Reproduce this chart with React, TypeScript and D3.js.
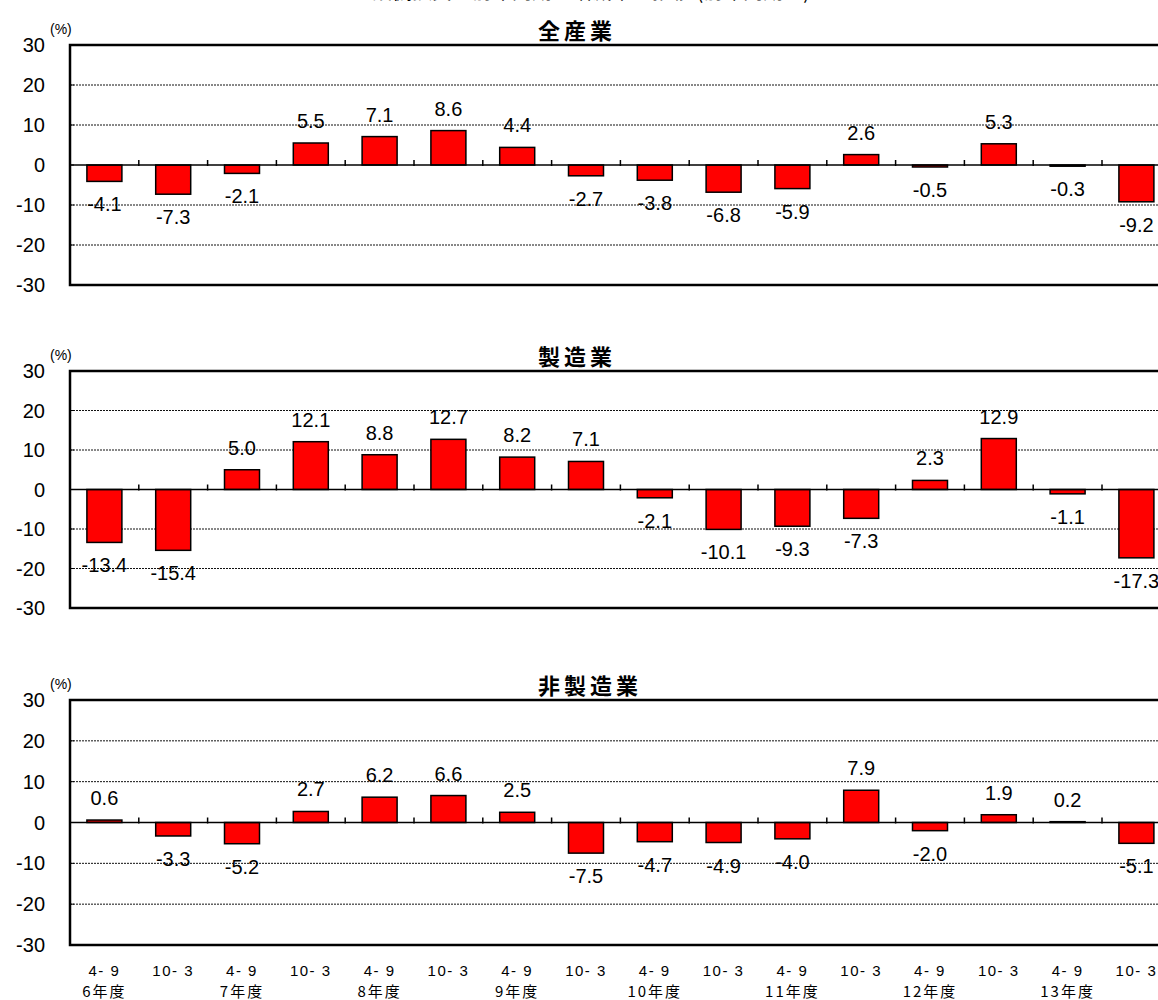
import React from "react";
import * as d3 from "d3";

const halfYears = ["4- 9", "10- 3", "4- 9", "10- 3", "4- 9", "10- 3", "4- 9", "10- 3", "4- 9", "10- 3", "4- 9", "10- 3", "4- 9", "10- 3", "4- 9", "10- 3"];
const fiscalYears = ["6年度", "7年度", "8年度", "9年度", "10年度", "11年度", "12年度", "13年度"];
const allIndustry = [-4.1, -7.3, -2.1, 5.5, 7.1, 8.6, 4.4, -2.7, -3.8, -6.8, -5.9, 2.6, -0.5, 5.3, -0.3, -9.2];
const manufacturing = [-13.4, -15.4, 5.0, 12.1, 8.8, 12.7, 8.2, 7.1, -2.1, -10.1, -9.3, -7.3, 2.3, 12.9, -1.1, -17.3];
const nonManufacturing = [0.6, -3.3, -5.2, 2.7, 6.2, 6.6, 2.5, -7.5, -4.7, -4.9, -4.0, 7.9, -2.0, 1.9, 0.2, -5.1];
const yTicks = [30, 20, 10, 0, -10, -20, -30];
const panelTitles = ["全産業", "製造業", "非製造業"];
const topTitle = "設備投資の前年同期比増減率の推移 (前年同期比)";

const W = 1158;
const H = 1000;
const LEFT = 70;
const BAND = 68.8;
const BAR_W = 35;
const LATIN = "'Liberation Sans', Arial, sans-serif";
const CJK = "'Noto Sans CJK JP', sans-serif";

const panelLayout = [
  { top: 45, bottom: 285, values: allIndustry },
  { top: 371, bottom: 608, values: manufacturing },
  { top: 700, bottom: 945, values: nonManufacturing },
];

const x = d3
  .scaleBand<number>()
  .domain(d3.range(halfYears.length))
  .range([LEFT, LEFT + BAND * halfYears.length])
  .paddingInner(0)
  .paddingOuter(0);

function Panel({ idx }: { idx: number }) {
  const p = panelLayout[idx];
  const y = d3.scaleLinear().domain([-30, 30]).range([p.bottom, p.top]);
  const y0 = y(0);
  const right = LEFT + BAND * halfYears.length;
  return (
    <g>
      {yTicks
        .filter((t) => t !== 30 && t !== -30 && t !== 0)
        .map((t) => (
          <line key={"g" + t} x1={LEFT} x2={right} y1={y(t)} y2={y(t)} stroke="#111" strokeWidth={1} strokeDasharray="2,1" />
        ))}
      {yTicks.map((t) => (
        <line key={"yt" + t} x1={LEFT} x2={LEFT + 4} y1={y(t)} y2={y(t)} stroke="#000" strokeWidth={1} />
      ))}
      {yTicks.map((t) => (
        <text key={"yl" + t} x={45} y={y(t) + 7} textAnchor="end" fontFamily={LATIN} fontSize={20} fill="#000">
          {t}
        </text>
      ))}
      <text x={50} y={p.top - 11} fontFamily={LATIN} fontSize={14} fill="#000">
        (%)
      </text>
      <text x={538} y={p.top - 6} fontFamily={CJK} fontWeight="bold" fontSize={22} letterSpacing={4} fill="#000">
        {panelTitles[idx]}
      </text>
      {p.values.map((v, i) => {
        const cx = (x(i) as number) + x.bandwidth() / 2;
        const yTop = y(Math.max(0, v));
        const yBot = y(Math.min(0, v));
        return (
          <rect key={"b" + i} x={cx - BAR_W / 2} y={yTop} width={BAR_W} height={Math.max(0.5, yBot - yTop)} fill="#FF0000" stroke="#000" strokeWidth={1.5} />
        );
      })}
      <line x1={LEFT} x2={right} y1={y0} y2={y0} stroke="#000" strokeWidth={1.5} />
      {d3.range(1, halfYears.length + 1).map((i) => (
        <line key={"ct" + i} x1={LEFT + BAND * i} x2={LEFT + BAND * i} y1={y0 - 5} y2={y0 + 1} stroke="#000" strokeWidth={1.5} />
      ))}
      {p.values.map((v, i) => {
        const cx = (x(i) as number) + x.bandwidth() / 2;
        const ly = v >= 0 ? y(v) - 15 : y(v) + 30;
        return (
          <text key={"l" + i} x={cx} y={ly} textAnchor="middle" fontFamily={LATIN} fontSize={20} fill="#000">
            {v.toFixed(1)}
          </text>
        );
      })}
      <rect x={LEFT} y={p.top} width={right - LEFT} height={p.bottom - p.top} fill="none" stroke="#000" strokeWidth={2.5} />
    </g>
  );
}

export default function App() {
  return (
    <div style={{ position: "absolute", left: 0, top: 0, width: W, height: H, overflow: "hidden", background: "#fff" }}>
      <svg width={W} height={H} viewBox={`0 0 ${W} ${H}`} style={{ display: "block" }}>
        <rect x={0} y={0} width={W} height={H} fill="#fff" />
        <text x={372} y={-1} fontFamily={CJK} fontSize={20} fill="#000">
          {topTitle}
        </text>
        {panelLayout.map((_, i) => (
          <Panel key={i} idx={i} />
        ))}
        {halfYears.map((c, i) => (
          <text
            key={"xc" + i}
            x={(x(i) as number) + x.bandwidth() / 2}
            y={976}
            textAnchor="middle"
            fontFamily={LATIN}
            fontSize={15}
            letterSpacing={1.5}
            style={{ whiteSpace: "pre" }}
            fill="#000"
          >
            {c}
          </text>
        ))}
        {fiscalYears.map((fy, j) => (
          <text
            key={"fy" + j}
            x={(x(j * 2) as number) + x.bandwidth() / 2}
            y={997}
            textAnchor="middle"
            fontFamily={CJK}
            fontSize={15}
            letterSpacing={2}
            fill="#000"
          >
            {fy}
          </text>
        ))}
      </svg>
    </div>
  );
}
